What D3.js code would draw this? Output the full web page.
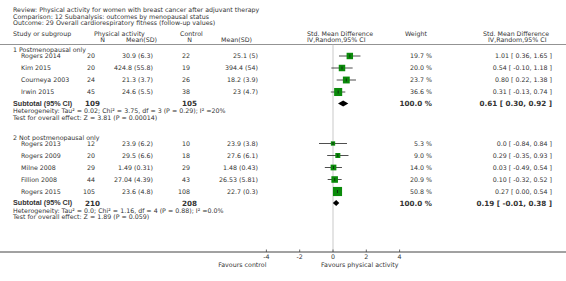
<!DOCTYPE html>
<html>
<head>
<meta charset="utf-8">
<script src="https://cdn.jsdelivr.net/npm/d3@7"></script>
<style>
  body { margin: 0; background: #fff; }
  svg text { font-family: "DejaVu Sans", Verdana, sans-serif; fill: #333; }
</style>
</head>
<body>
<div id="chart"></div>
<script>
// header text
const titleLines = [
    "Review:  Physical activity for women with breast cancer after adjuvant therapy",
    "Comparison:  12 Subanalysis: outcomes by menopausal status",
    "Outcome:  29 Overall cardiorespiratory fitness (follow-up values)"
];

// studies
const groupOf = [0, 0, 0, 0, 1, 1, 1, 1, 1];
const studyNames = ["Rogers 2014", "Kim 2015", "Courneya 2003", "Irwin 2015",
    "Rogers 2013", "Rogers 2009", "Milne 2008", "Fillion 2008", "Rogers 2015"];
const paN = [20, 20, 24, 45, 12, 20, 29, 44, 105];
const paMeanSD = ["30.9 (6.3)", "424.8 (55.8)", "21.3 (3.7)", "24.6 (5.5)",
    "23.9 (6.2)", "29.5 (6.6)", "1.49 (0.31)", "27.04 (4.39)", "23.6 (4.8)"];
const ctN = [22, 19, 26, 38, 10, 18, 29, 43, 108];
const ctMeanSD = ["25.1 (5)", "394.4 (54)", "18.2 (3.9)", "23 (4.7)",
    "23.9 (3.8)", "27.6 (6.1)", "1.48 (0.43)", "26.53 (5.81)", "22.7 (0.3)"];
const weights = [19.7, 20.0, 23.7, 36.6, 5.3, 9.0, 14.0, 20.9, 50.8];
const smd = [1.01, 0.54, 0.80, 0.31, 0.0, 0.29, 0.03, 0.10, 0.27];
const ciLow = [0.36, -0.10, 0.22, -0.13, -0.84, -0.35, -0.49, -0.32, 0.00];
const ciHigh = [1.65, 1.18, 1.38, 0.74, 0.84, 0.93, 0.54, 0.52, 0.54];
const smdText = ["1.01 [ 0.36, 1.65 ]", "0.54 [ -0.10, 1.18 ]", "0.80 [ 0.22, 1.38 ]", "0.31 [ -0.13, 0.74 ]",
    "0.0 [ -0.84, 0.84 ]", "0.29 [ -0.35, 0.93 ]", "0.03 [ -0.49, 0.54 ]", "0.10 [ -0.32, 0.52 ]", "0.27 [ 0.00, 0.54 ]"];

// subgroups
const groupLabels = ["1 Postmenopausal only", "2 Not postmenopausal only"];
const subPaN = [109, 210];
const subCtN = [105, 208];
const subSmd = [0.61, 0.19];
const subLow = [0.30, -0.01];
const subHigh = [0.92, 0.38];
const subText = ["0.61 [ 0.30, 0.92 ]", "0.19 [ -0.01, 0.38 ]"];
const hetText = [
    "Heterogeneity: Tau\u00b2 = 0.02; Chi\u00b2 = 3.75, df = 3 (P = 0.29); I\u00b2 =20%",
    "Heterogeneity: Tau\u00b2 = 0.0; Chi\u00b2 = 1.16, df = 4 (P = 0.88); I\u00b2 =0.0%"
];
const testText = [
    "Test for overall effect: Z = 3.81 (P = 0.00014)",
    "Test for overall effect: Z = 1.89 (P = 0.059)"
];

const axisTicks = [-4, -2, 0, 2, 4];

const width = 566, height = 281;
const fs = 6.3;
const bfs = 7.2;

const svg = d3.select("#chart").append("svg")
    .attr("width", width)
    .attr("height", height);

// forest scale
const x = d3.scaleLinear().domain([-4, 4]).range([266.4, 399.6]);
const boxSize = d3.scaleSqrt().domain([0, 100]).range([0, 10]);

// vertical layout (row centers)
const groupTop = [50, 137.5];
const rowGap = 12;
const studyY = (i) => {
    const g = groupOf[i];
    const k = groupOf.slice(0, i).filter(v => v === g).length;
    return groupTop[g] + 6 + k * rowGap;
};
const subY = (g) => {
    const n = groupOf.filter(v => v === g).length;
    return groupTop[g] + 5.5 + n * rowGap;
};
const axisY = 252;
const sepY = 44.5;

// column positions
const col = { name: 13, indent: 21, paN: 95, paM: 153, ctN: 190, ctM: 258, weight: 432, est: 552 };

function txt(xp, yp, s, anchor, size, bold) {
    return svg.append("text")
        .attr("x", xp).attr("y", yp)
        .attr("dy", "0.35em")
        .attr("text-anchor", anchor || "start")
        .attr("font-size", size || fs)
        .attr("font-weight", bold ? "bold" : null)
        .text(s);
}

// title
titleLines.forEach((t, i) => txt(13, 10 + i * 6.4, t));

// column headers
txt(col.name, 33.5, "Study or subgroup");
txt(94, 33.5, "Physical activity");
txt(180, 33.5, "Control");
txt(col.paN + 10, 39.5, "N", "end");
txt(col.paM + 4, 39.5, "Mean(SD)", "end");
txt(col.ctN + 2, 39.5, "N", "end");
txt(col.ctM - 6, 39.5, "Mean(SD)", "end");
txt(307, 33.5, "Std. Mean Difference");
txt(307, 39.5, "IV,Random,95% CI");
txt(405, 33.5, "Weight");
txt(483, 33.5, "Std. Mean Difference");
txt(488, 39.5, "IV,Random,95% CI");

// separator and zero line
svg.append("line")
    .attr("x1", 0).attr("x2", width)
    .attr("y1", sepY).attr("y2", sepY)
    .attr("stroke", "#777").attr("stroke-width", 0.8);

svg.append("line")
    .attr("x1", x(0)).attr("x2", x(0))
    .attr("y1", sepY).attr("y2", axisY)
    .attr("stroke", "#bbb").attr("stroke-width", 0.8);

// groups
groupLabels.forEach((lab, g) => {
    txt(col.name, groupTop[g], lab);
    const ys = subY(g);
    txt(col.name, ys - 0.3, "Subtotal (95% CI)", "start", 7.2, true)
        .style("font-family", "'Liberation Sans', Arial, sans-serif");
    txt(col.paN + 5, ys, subPaN[g], "end", bfs, true);
    txt(col.ctN + 7, ys, subCtN[g], "end", bfs, true);
    txt(col.weight, ys, "100.0 %", "end", bfs, true);
    txt(col.est, ys, subText[g], "end", bfs, true);
    txt(col.name, ys + 7.5, hetText[g]);
    txt(col.name, ys + 14, testText[g]);

    // diamond
    const h = 3;
    svg.append("path")
        .attr("d", `M${x(subLow[g])},${ys} L${x(subSmd[g])},${ys - h} L${x(subHigh[g])},${ys} L${x(subSmd[g])},${ys + h} Z`)
        .attr("fill", "#000");
});

// study rows
studyNames.forEach((name, i) => {
    const y = studyY(i);
    txt(col.indent, y, name);
    txt(col.paN, y, paN[i], "end");
    txt(col.paM, y, paMeanSD[i], "end");
    txt(col.ctN, y, ctN[i], "end");
    txt(col.ctM, y, ctMeanSD[i], "end");
    txt(col.weight, y, weights[i].toFixed(1) + " %", "end");
    txt(col.est, y, smdText[i], "end");
});

const rows = svg.append("g");
rows.selectAll(".ci")
    .data(studyNames)
    .join("line")
    .attr("x1", (d, i) => x(ciLow[i]))
    .attr("x2", (d, i) => x(ciHigh[i]))
    .attr("y1", (d, i) => studyY(i))
    .attr("y2", (d, i) => studyY(i))
    .attr("stroke", "#222")
    .attr("stroke-width", 0.8);

rows.selectAll(".box")
    .data(studyNames)
    .join("rect")
    .attr("x", (d, i) => x(smd[i]) - (boxSize(weights[i]) + 2) / 2)
    .attr("y", (d, i) => studyY(i) - (boxSize(weights[i]) + 2) / 2)
    .attr("width", (d, i) => boxSize(weights[i]) + 2)
    .attr("height", (d, i) => boxSize(weights[i]) + 2)
    .attr("fill", "#0a8a0a");

rows.selectAll(".mid")
    .data(studyNames)
    .join("line")
    .attr("x1", (d, i) => x(smd[i]))
    .attr("x2", (d, i) => x(smd[i]))
    .attr("y1", (d, i) => studyY(i) - 1.5)
    .attr("y2", (d, i) => studyY(i) + 1.5)
    .attr("stroke", "#111")
    .attr("stroke-width", 0.7);

// axis
svg.append("line")
    .attr("x1", 0).attr("x2", width)
    .attr("y1", axisY).attr("y2", axisY)
    .attr("stroke", "#444").attr("stroke-width", 1);

svg.selectAll(".tick")
    .data(axisTicks)
    .join("line")
    .attr("x1", d => x(d)).attr("x2", d => x(d))
    .attr("y1", axisY - 2.5).attr("y2", axisY)
    .attr("stroke", "#444").attr("stroke-width", 0.8);

axisTicks.forEach(t => txt(x(t), 257, t, "middle"));

txt(x(-4), 264.5, "Favours control", "end");
txt(321, 264.5, "Favours physical activity", "start");
</script>
</body>
</html>
